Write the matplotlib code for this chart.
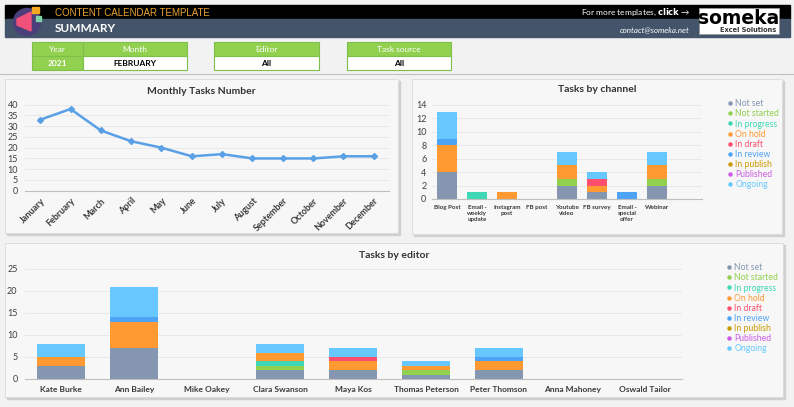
import matplotlib
matplotlib.use("Agg")
import matplotlib.pyplot as plt
from matplotlib.patches import Rectangle, Circle, Polygon
from matplotlib.lines import Line2D
import numpy as np

plt.rcParams['font.family'] = ['Lato', 'DejaVu Sans']

# ---- data ----
months = ["January", "February", "March", "April", "May", "June", "July",
          "August", "September", "October", "November", "December"]
monthly_tasks = [33, 38, 28, 23, 20, 16, 17, 15, 15, 15, 16, 16]

statuses = ["Not set", "Not started", "In progress", "On hold", "In draft",
            "In review", "In publish", "Published", "Ongoing"]
status_colors = ["#8496B0", "#92D050", "#3ED8B4", "#FF9A33", "#FF4F6E",
                 "#4EA3F5", "#C99A00", "#CC5CE6", "#66C8FF"]

channels = ["Blog Post", "Email -\nweekly\nupdate", "Instagram\npost", "FB post",
            "Youtube\nvideo", "FB survey", "Email -\nspecial\noffer", "Webinar"]
# rows = statuses, columns = channels
channel_counts = [
    [4, 0, 0, 0, 2, 1, 0, 2],   # Not set
    [0, 0, 0, 0, 1, 0, 0, 1],   # Not started
    [0, 1, 0, 0, 0, 0, 0, 0],   # In progress
    [4, 0, 1, 0, 2, 1, 0, 2],   # On hold
    [0, 0, 0, 0, 0, 1, 0, 0],   # In draft
    [1, 0, 0, 0, 0, 0, 1, 0],   # In review
    [0, 0, 0, 0, 0, 0, 0, 0],   # In publish
    [0, 0, 0, 0, 0, 0, 0, 0],   # Published
    [4, 0, 0, 0, 2, 1, 0, 2],   # Ongoing
]

editors = ["Kate Burke", "Ann Bailey", "Mike Oakey", "Clara Swanson", "Maya Kos",
           "Thomas Peterson", "Peter Thomson", "Anna Mahoney", "Oswald Tailor"]
editor_counts = [
    [3, 7, 0, 2, 2, 1, 2, 0, 0],   # Not set
    [0, 0, 0, 1, 0, 1, 0, 0, 0],   # Not started
    [0, 0, 0, 1, 0, 0, 0, 0, 0],   # In progress
    [2, 6, 0, 2, 2, 1, 2, 0, 0],   # On hold
    [0, 0, 0, 0, 1, 0, 0, 0, 0],   # In draft
    [0, 1, 0, 0, 0, 0, 1, 0, 0],   # In review
    [0, 0, 0, 0, 0, 0, 0, 0, 0],   # In publish
    [0, 0, 0, 0, 0, 0, 0, 0, 0],   # Published
    [3, 7, 0, 2, 2, 1, 2, 0, 0],   # Ongoing
]

W, H = 794, 407
fig = plt.figure(figsize=(W / 100, H / 100), dpi=100)
fig.patch.set_facecolor("#F2F2F2")

# background axes in pixel coords
bg = fig.add_axes([0, 0, 1, 1])
bg.set_xlim(0, W)
bg.set_ylim(H, 0)
bg.axis("off")


def px_axes(x0, y0, x1, y1):
    return fig.add_axes([x0 / W, 1 - y1 / H, (x1 - x0) / W, (y1 - y0) / H])


# header
bg.add_patch(Rectangle((5, 5), 785, 14, color="black"))
bg.add_patch(Rectangle((5, 19), 785, 18, color="#44546A"))
bg.add_patch(Circle((27, 22), 13.5, color="#4A3F7A", zorder=3))
bg.add_patch(Polygon([[17, 19], [31, 12], [31, 31], [17, 25]], color="#F0507A", zorder=4))
bg.add_patch(Rectangle((32, 7), 7, 6, color="#F5A623", zorder=4))
bg.add_patch(Rectangle((36, 16), 5, 5, color="#7ED3A8", zorder=4))
bg.text(55, 12.5, "CONTENT CALENDAR TEMPLATE", color="#EBA534", fontsize=7,
        va="center", family=["Liberation Sans", "DejaVu Sans"])
bg.text(55, 29, "SUMMARY", color="white", fontsize=8.5, fontweight="bold", va="center")
bg.text(690, 12.5, "For more templates, $\\bf{click}$ →", color="white", fontsize=6,
        ha="right", va="center")
bg.text(690, 30, "contact@someka.net", color="white", fontsize=5.8, style="italic",
        ha="right", va="center")
bg.add_patch(Rectangle((699, 8), 80, 26, facecolor="white", edgecolor="#999999", lw=0.6))
bg.text(739, 18.5, "someka", color="black", fontsize=13.5, fontweight="bold",
        ha="center", va="center", family=["DejaVu Sans"])
bg.text(776, 30.5, "Excel Solutions", color="#333333", fontsize=4.8, fontweight="bold",
        ha="right", va="center", family=["DejaVu Sans"])

# filter boxes
green = "#92D050"
def filter_cell(x0, x1, head, value, value_bg="white", value_color="black"):
    bg.add_patch(Rectangle((x0, 42), x1 - x0, 14, facecolor=green, edgecolor="#7CC04A", lw=0.8))
    bg.add_patch(Rectangle((x0, 56), x1 - x0, 14, facecolor=value_bg, edgecolor="#7CC04A", lw=0.8))
    bg.text((x0 + x1) / 2, 49, head, color="white", fontsize=6, ha="center", va="center")
    bg.text((x0 + x1) / 2, 63, value, color=value_color, fontsize=6, fontweight="bold",
            ha="center", va="center")

filter_cell(32, 83, "Year", "2021", value_bg=green, value_color="white")
filter_cell(83, 187, "Month", "FEBRUARY")
filter_cell(214, 319, "Editor", "All")
filter_cell(347, 451, "Task source", "All")
bg.plot([0, W], [73.5, 73.5], color="#BFBFBF", lw=0.8)

# panels
for (x0, y0, x1, y1) in [(5, 79, 398, 233), (412, 79, 782, 234), (5, 243, 783, 397)]:
    bg.add_patch(Rectangle((x0 + 1.5, y0 + 1.5), x1 - x0, y1 - y0, color="#D0D0D0"))
    bg.add_patch(Rectangle((x0, y0), x1 - x0, y1 - y0, facecolor="#F7F7F7",
                           edgecolor="#DADADA", lw=0.6))

tick_color = "#404040"
grid_color = "#E6E6E6"


def style_axes(ax):
    ax.set_facecolor("none")
    for s in ["top", "right", "left"]:
        ax.spines[s].set_visible(False)
    ax.spines["bottom"].set_color("#BFBFBF")
    ax.spines["bottom"].set_linewidth(0.8)
    ax.tick_params(length=0, colors=tick_color)
    ax.yaxis.grid(True, color=grid_color, lw=0.6)
    ax.set_axisbelow(True)


# ---- monthly line ----
ax1 = px_axes(25, 104.7, 389, 190.7)
style_axes(ax1)
x = np.arange(len(months))
ax1.plot(x, monthly_tasks, color="#5AA0E6", lw=1.8, marker="D", ms=3, clip_on=False)
ax1.set_xlim(-0.5, len(months) - 0.5)
ax1.set_ylim(0, 40)
ax1.set_yticks(range(0, 41, 5))
ax1.set_xticks(x)
ax1.set_xticklabels(months, rotation=45, ha="right", rotation_mode="anchor",
                    fontsize=6.5, fontweight="bold", color="#3A3A3A")
ax1.tick_params(axis="y", labelsize=6.5, pad=5)
ax1.tick_params(axis="x", pad=4)
bg.text(201, 91, "Monthly Tasks Number", fontsize=7.5, fontweight="bold",
        color="#333333", ha="center", va="center")


def stacked(ax, counts, n):
    bottom = np.zeros(n)
    handles = []
    for vals, col in zip(counts, status_colors):
        vals = np.array(vals, dtype=float)
        ax.bar(np.arange(n), vals, bottom=bottom, color=col, width=bar_w)
        bottom += vals
        handles.append(Line2D([], [], marker="o", ls="", color=col, ms=2.2))
    return handles


# ---- tasks by channel ----
ax2 = px_axes(432, 105, 702, 199)
style_axes(ax2)
bar_w = 0.67
handles = stacked(ax2, channel_counts, len(channels))
ax2.set_xlim(-0.5, 8.5)
ax2.set_ylim(0, 14)
ax2.set_yticks(range(0, 15, 2))
ax2.set_xticks(np.arange(len(channels)))
ax2.set_xticklabels(channels, fontsize=4.5, va="top", linespacing=1.25,
                    fontweight="bold", color="#3A3A3A")
ax2.tick_params(axis="y", labelsize=6.5, pad=4)
ax2.tick_params(axis="x", pad=4)
bg.text(597, 90, "Tasks by channel", fontsize=7.5, fontweight="bold",
        color="#333333", ha="center", va="center")
fig.legend(handles, statuses, labelcolor=status_colors, loc="upper left",
           bbox_to_anchor=(724 / W, 1 - 96 / H), frameon=False, fontsize=6.2,
           handlelength=0.6, handletextpad=0.3, labelspacing=0.12, borderaxespad=0)

# ---- tasks by editor ----
ax3 = px_axes(24.5, 269, 681.5, 379)
style_axes(ax3)
bar_w = 0.66
handles = stacked(ax3, editor_counts, len(editors))
ax3.set_xlim(-0.5, len(editors) - 0.5)
ax3.set_ylim(0, 25)
ax3.set_yticks(range(0, 26, 5))
ax3.set_xticks(np.arange(len(editors)))
ax3.set_xticklabels(editors, fontsize=6, fontweight="bold", color="#3A3A3A")
ax3.tick_params(axis="y", labelsize=6.5, pad=5)
ax3.tick_params(axis="x", pad=5)
bg.text(394, 255, "Tasks by editor", fontsize=7.5, fontweight="bold",
        color="#333333", ha="center", va="center")
fig.legend(handles, statuses, labelcolor=status_colors, loc="upper left",
           bbox_to_anchor=(723 / W, 1 - 260 / H), frameon=False, fontsize=6.2,
           handlelength=0.6, handletextpad=0.3, labelspacing=0.12, borderaxespad=0)

fig.savefig("out.png", dpi=100, facecolor=fig.get_facecolor())
